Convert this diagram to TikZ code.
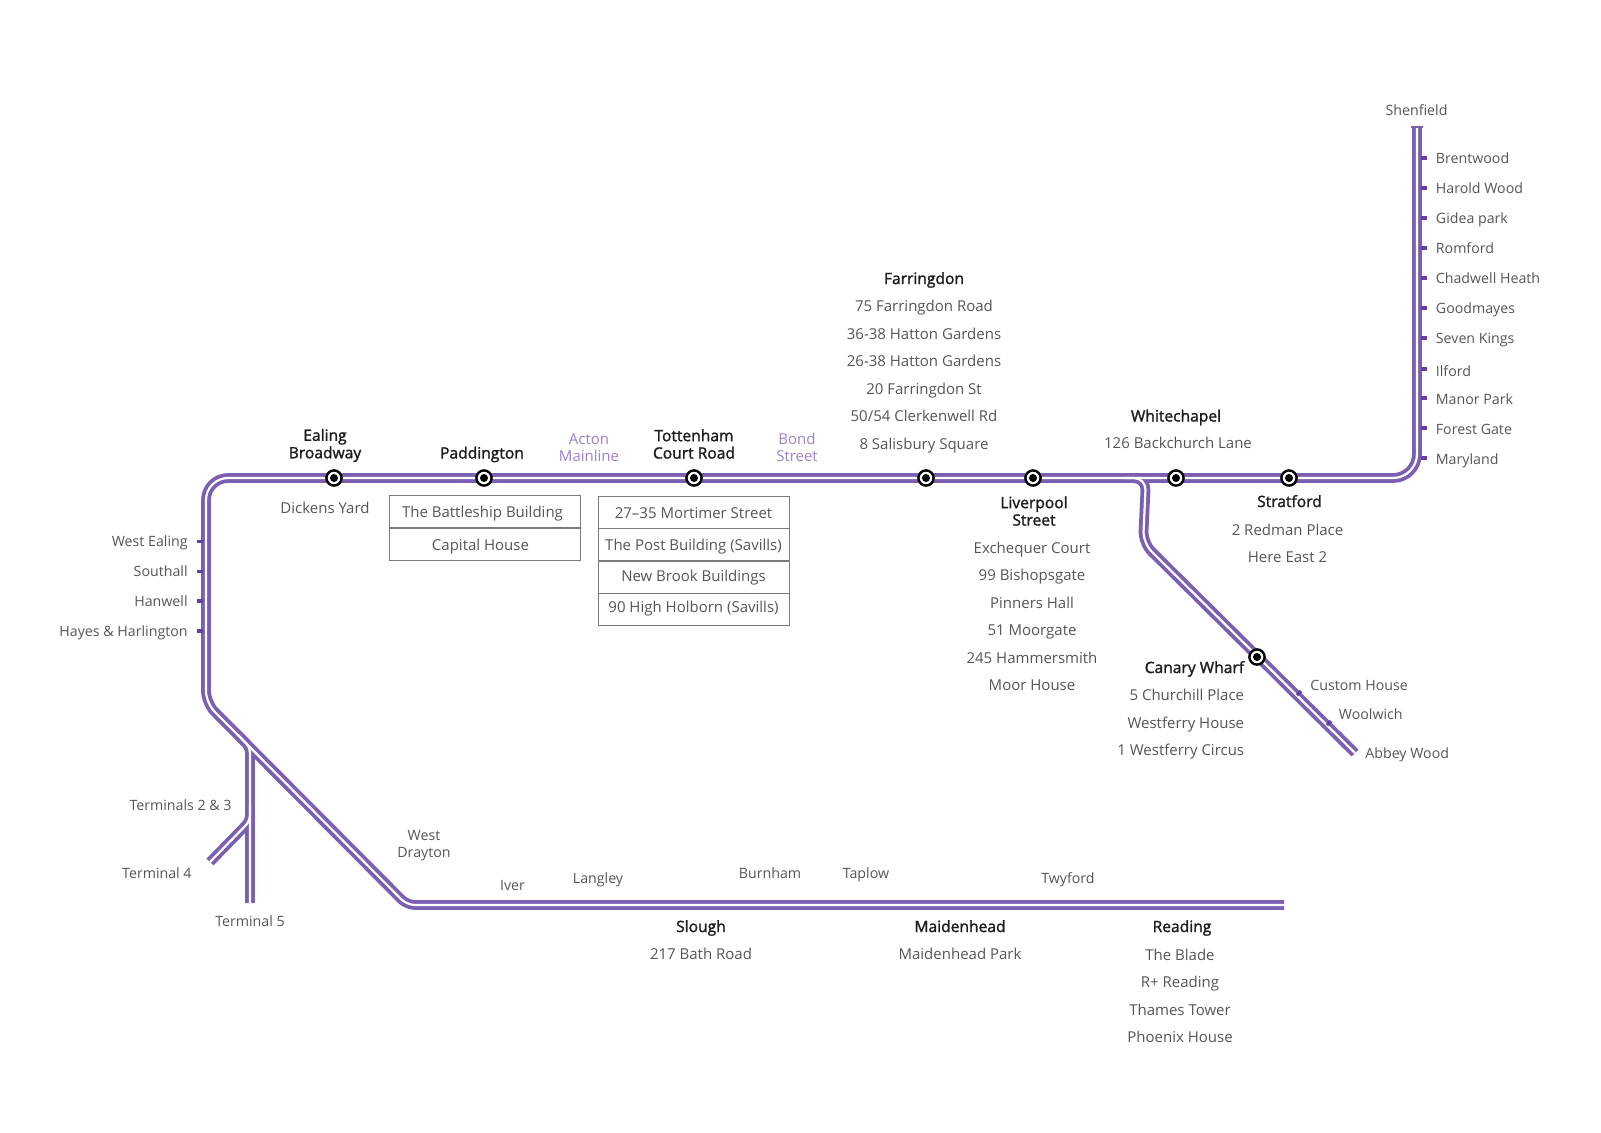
\documentclass[tikz,border=0pt]{standalone}
\usepackage{fontspec}
\setmainfont{Open Sans}
\newfontfamily\hubfont[FakeBold=1.6]{Open Sans}
\usepackage{tikz}
\usetikzlibrary{positioning}
\usepackage{xcolor}
\definecolor{trackcolor}{HTML}{7A5FB2}
\definecolor{tickcolor}{HTML}{6240A4}
\definecolor{stopcolor}{HTML}{555555}
\definecolor{hubcolor}{HTML}{1C1C1C}
\definecolor{othercolor}{HTML}{9A82CB}
\definecolor{cellcolor}{HTML}{7A7A7A}
\tikzset{
    sitestack/.style={text=stopcolor, font=\fontsize{7.5}{13.75}\selectfont, align=center, inner sep=0pt},
    sitelabel/.style={sitestack, text height=7.2pt, text depth=1.6pt},
    stoplabel/.style={text=stopcolor, font=\fontsize{7.1}{8.6}\selectfont, align=center, inner sep=0pt},
    stopline/.style={stoplabel, text height=7.4pt, text depth=1.6pt},
    hubstack/.style={text=hubcolor, font=\hubfont\fontsize{7.8}{8.7}\selectfont, align=center, inner sep=0pt},
    hublabel/.style={hubstack, text height=7.6pt, text depth=1.6pt},
    otherlabel/.style={text=othercolor, font=\fontsize{7.5}{8.7}\selectfont, align=center, inner sep=0pt},
    tablecell/.style={draw=cellcolor, line width=0.5pt, text=stopcolor, font=\fontsize{7.5}{10}\selectfont,
        minimum width=95.5pt, minimum height=16pt, inner sep=0pt, text height=7.6pt, text depth=1.6pt},
    station/.style={circle, draw=black, line width=1.2pt, fill=white, minimum size=7.6pt, inner sep=0pt,
        path picture={\fill[black] (path picture bounding box.center) circle (2pt);}},
    tickmark/.style={tickcolor, line width=1.6pt}
}
\begin{document}
\begin{tikzpicture}[x=0.5pt, y=-0.5pt]
    \useasboundingbox (0,0) rectangle (1601,1132);

    % Route points
    \coordinate (shenfield) at (1417,127);
    \coordinate (eastbend) at (1417,478);
    \coordinate (westbend) at (206,478);
    \coordinate (southbend) at (206,703);
    \coordinate (westdrayton) at (407,905);
    \coordinate (lineend) at (1284,905);
    \coordinate (forkstart) at (1122,478);
    \coordinate (forkbend) at (1146,478);
    \coordinate (forkdiag) at (1143,543);
    \coordinate (abbeywood) at (1355,753);
    \coordinate (airportjoin) at (238,735);
    \coordinate (airporttop) at (250,747);
    \coordinate (airportfork) at (250,821);
    \coordinate (airportmid) at (250,806);
    \coordinate (terminalfour) at (210,862);
    \coordinate (terminalfive) at (250,903);

    % Track, purple first and white core over it
    \foreach \w/\c in {4.9pt/trackcolor, 1.1pt/white} {
        \draw[line width=\w, color=\c, line join=round]
            (shenfield) [rounded corners=12pt] -- (eastbend)
            [rounded corners=11pt] -- (westbend)
            [rounded corners=6pt] -- (southbend)
            [rounded corners=4pt] -- (westdrayton)
            [sharp corners] -- (lineend);
        \draw[line width=\w, color=\c, line join=round, rounded corners=6pt]
            (forkstart) -- (forkbend) -- (forkdiag) -- (abbeywood);
        \draw[line width=\w, color=\c, rounded corners=3pt] (airportjoin) -- (airporttop) -- (terminalfive);
        \draw[line width=\w, color=\c, rounded corners=3pt] (terminalfour) -- (airportfork) -- (airportmid);
    }
    \draw[trackcolor, line width=0.8pt] (1411,127) -- (1423,127);

    % Branch stops without a label box
    \foreach \y in {158,188,218,248,278,308,338,369,398,428,458}
        \draw[tickmark] (1421,\y) -- (1427,\y);
    \foreach \y in {541.5,571.5,601,631}
        \draw[tickmark] (197,\y) -- (203,\y);
    \draw[tickmark] (1297,695) -- (1301,691);
    \draw[tickmark] (1327,725) -- (1331,721);

    % Stations
    \node[station] (ealing) at (334,478) {};
    \node[station] (paddington) at (484,478) {};
    \node[station] (tottenham) at (694,478) {};
    \node[station] (farringdon) at (926,478) {};
    \node[station] (liverpool) at (1033,478) {};
    \node[station] (whitechapel) at (1176,478) {};
    \node[station] (stratford) at (1289,478) {};
    \node[station] (canary) at (1257,657) {};

    % Upper line labels
    \node[hubstack] (ealingname) at (325,445.5) {Ealing\\Broadway};
    \node[sitelabel] (ealingsite) at (325,508) {Dickens Yard};
    \node[hublabel] (paddingtonname) at (482,452.5) {Paddington};
    \node[otherlabel] (acton) at (589,447.5) {Acton\\Mainline};
    \node[hubstack] (tottenhamname) at (694,444) {Tottenham\\Court Road};
    \node[otherlabel] (bond) at (797,447.5) {Bond\\Street};
    \node[hublabel] (farringdonname) at (924,278) {Farringdon};
    \node[sitestack] (farringdonsites) at (924,376.5) {75 Farringdon Road\\36-38 Hatton Gardens\\26-38 Hatton Gardens\\20 Farringdon St\\50/54 Clerkenwell Rd\\8 Salisbury Square};
    \node[hublabel] (whitechapelname) at (1176,415.5) {Whitechapel};
    \node[sitelabel] (whitechapelsite) at (1178,443) {126 Backchurch Lane};

    % Lower line labels
    \node[hubstack] (liverpoolname) at (1034,511) {Liverpool\\Street};
    \node[sitestack] (liverpoolsites) at (1032,616.5) {Exchequer Court\\99 Bishopsgate\\Pinners Hall\\51 Moorgate\\245 Hammersmith\\Moor House};
    \node[hublabel] (stratfordname) at (1289.5,501) {Stratford};
    \node[sitestack] (stratfordsites) at (1287.5,543.5) {2 Redman Place\\Here East 2};
    \node[hublabel, anchor=east] (canaryname) at (1244.5,667) {Canary Wharf};
    \node[sitestack, anchor=east, align=right] (canarysites) at (1244.5,724.5) {5 Churchill Place\\Westferry House\\1 Westferry Circus};
    \node[stopline, anchor=west] (custom) at (1310,685) {Custom House};
    \node[stopline, anchor=west] (woolwich) at (1338.5,714) {Woolwich};
    \node[stopline, anchor=west] (abbey) at (1365,752.5) {Abbey Wood};

    % Label tables
    \node[tablecell] (battleship) at (484.5,511.5) {The Battleship Building\hspace{2pt}\mbox{}};
    \node[tablecell, below=-0.25pt of battleship] (capital) {Capital House\hspace{4pt}\mbox{}};
    \node[tablecell] (mortimer) at (693.5,512) {27--35 Mortimer Street};
    \node[tablecell, below=-0.25pt of mortimer] (post) {The Post Building (Savills)};
    \node[tablecell, below=-0.25pt of post] (newbrook) {\raisebox{0.6pt}{New Brook Buildings}};
    \node[tablecell, below=-0.25pt of newbrook] (holborn) {\raisebox{1.5pt}{90 High Holborn (Savills)}};

    % Shenfield branch labels
    \node[stopline] (shenfieldname) at (1416.5,110) {Shenfield};
    \foreach \nm/\y in {Brentwood/157.5, Harold Wood/188, Gidea park/217.5, Romford/248, Chadwell Heath/278,
        Goodmayes/307.5, Seven Kings/338, Ilford/370.5, Manor Park/398.5, Forest Gate/428.5, Maryland/458.5}
        \node[stopline, anchor=west] at (1435.5,\y) {\nm};

    % Western branch labels
    \foreach \nm/\y in {West Ealing/540.5, Southall/571, Hanwell/600.5, Hayes \& Harlington/631}
        \node[stopline, anchor=east] at (188,\y) {\nm};
    \node[stopline, anchor=east] (termtwo) at (232,804.5) {Terminals 2 \& 3};
    \node[stopline, anchor=east] (termfour) at (192,873) {Terminal 4};
    \node[stopline] (termfive) at (250,921) {Terminal 5};

    % Bottom line labels
    \node[stoplabel] (drayton) at (424,845.5) {West\\Drayton};
    \node[stopline] (iver) at (512.5,885) {Iver};
    \node[stopline] (langley) at (598,878) {Langley};
    \node[stopline] (burnham) at (770,873) {Burnham};
    \node[stopline] (taplow) at (866,873) {Taplow};
    \node[stopline] (twyford) at (1068,878) {Twyford};
    \node[hublabel] (sloughname) at (701,926) {Slough};
    \node[sitelabel] (sloughsite) at (701,953.5) {217 Bath Road};
    \node[hublabel] (maidenheadname) at (960,926) {Maidenhead};
    \node[sitelabel] (maidenheadsite) at (960,953.5) {Maidenhead Park};
    \node[hublabel] (readingname) at (1182,926) {Reading};
    \node[sitestack] (readingsites) at (1180,996) {The Blade\\R+ Reading\\Thames Tower\\Phoenix House};
\end{tikzpicture}
\end{document}
